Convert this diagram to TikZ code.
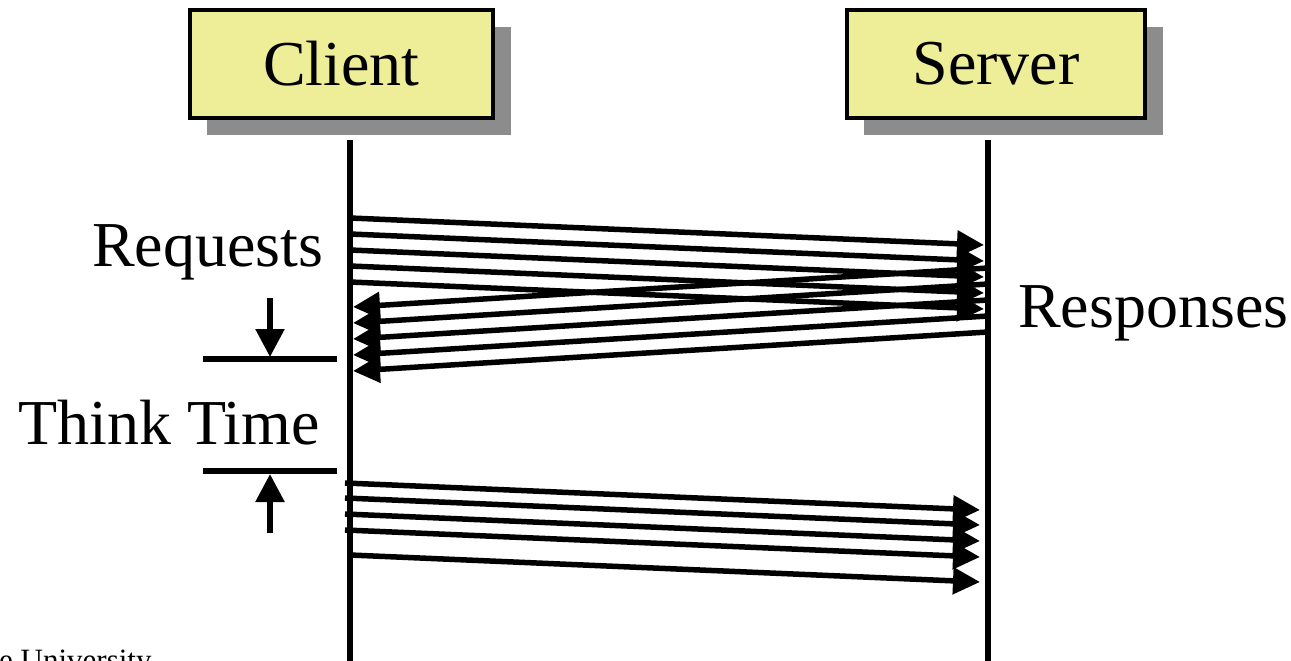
\documentclass[tikz,border=0pt]{standalone}
\usepackage{fontspec}
\setmainfont{Liberation Serif}
\usetikzlibrary{arrows.meta}
\definecolor{boxyellow}{RGB}{238,238,153}
\definecolor{shadowgray}{RGB}{140,140,140}
\begin{document}
\begin{tikzpicture}[x=1pt,y=-1pt,
  big/.style={font=\fontsize{64}{70}\selectfont, inner sep=0pt},
  actor/.style={draw=black, line width=4.5pt, fill=boxyellow, minimum height=108pt, inner sep=0pt, font=\fontsize{64}{70}\selectfont},
  lifeline/.style={line width=6pt},
  msg/.style={line width=5.5pt, -{Triangle[length=27pt,width=26pt]}},
  marker/.style={line width=5.5pt},
  markarrow/.style={line width=5.5pt, -{Triangle[length=28pt,width=28pt]}}]
\useasboundingbox (0,0) rectangle (1291,661);

% shadows
\fill[shadowgray] (207,27) rectangle (511,135);
\fill[shadowgray] (864,27) rectangle (1163,135);

% actor boxes
\node[actor, minimum width=303pt] (client) at (341.5,64) {Client};
\node[actor, minimum width=298pt] (server) at (996,64) {Server};

% lifelines
\coordinate (cl0) at (350,140);
\coordinate (cl1) at (350,661);
\coordinate (sl0) at (988,140);
\coordinate (sl1) at (988,661);
\draw[lifeline] (cl0) -- (cl1);
\draw[lifeline] (sl0) -- (sl1);

% first batch of requests
\foreach \i/\a/\b in {1/218/245, 2/234/261, 3/250/277, 4/266/293, 5/282/309}{
  \coordinate (rqa\i) at (350,\a);
  \coordinate (rqb\i) at (984,\b);
  \draw[msg] (rqa\i) -- (rqb\i);
}
% responses
\foreach \i/\a/\b in {1/268/307, 2/284/323, 3/300/339, 4/316/355, 5/332/371}{
  \coordinate (rsa\i) at (988,\a);
  \coordinate (rsb\i) at (353,\b);
  \draw[msg] (rsa\i) -- (rsb\i);
}
% second batch of requests
\foreach \i/\x/\a/\b in {1/345/483/510, 2/345/498/525, 3/345/514/541, 4/345/530/557, 5/350/555/582}{
  \coordinate (rqc\i) at (\x,\a);
  \coordinate (rqd\i) at (980,\b);
  \draw[msg] (rqc\i) -- (rqd\i);
}

% labels
\node[big, anchor=base west] (requests) at (92,266) {Requests};
\node[big, anchor=base west] (responses) at (1018,327) {Responses};
\node[big, anchor=base west] (think) at (18,444) {Think Time};

% think time markers
\coordinate (m1a) at (203,359);
\coordinate (m1b) at (337,359);
\coordinate (m2a) at (203,471);
\coordinate (m2b) at (337,471);
\draw[marker] (m1a) -- (m1b);
\draw[marker] (m2a) -- (m2b);
\coordinate (ta0) at (270,298);
\coordinate (ta1) at (270,357);
\coordinate (tb0) at (270,533);
\coordinate (tb1) at (270,474);
\draw[markarrow] (ta0) -- (ta1);
\draw[markarrow] (tb0) -- (tb1);

% cut-off footer (cut off in the reference too)
\node[anchor=base west, inner sep=0pt, font=\fontsize{31}{34}\selectfont] (footer) at (-1,670) {e University};
\end{tikzpicture}
\end{document}
